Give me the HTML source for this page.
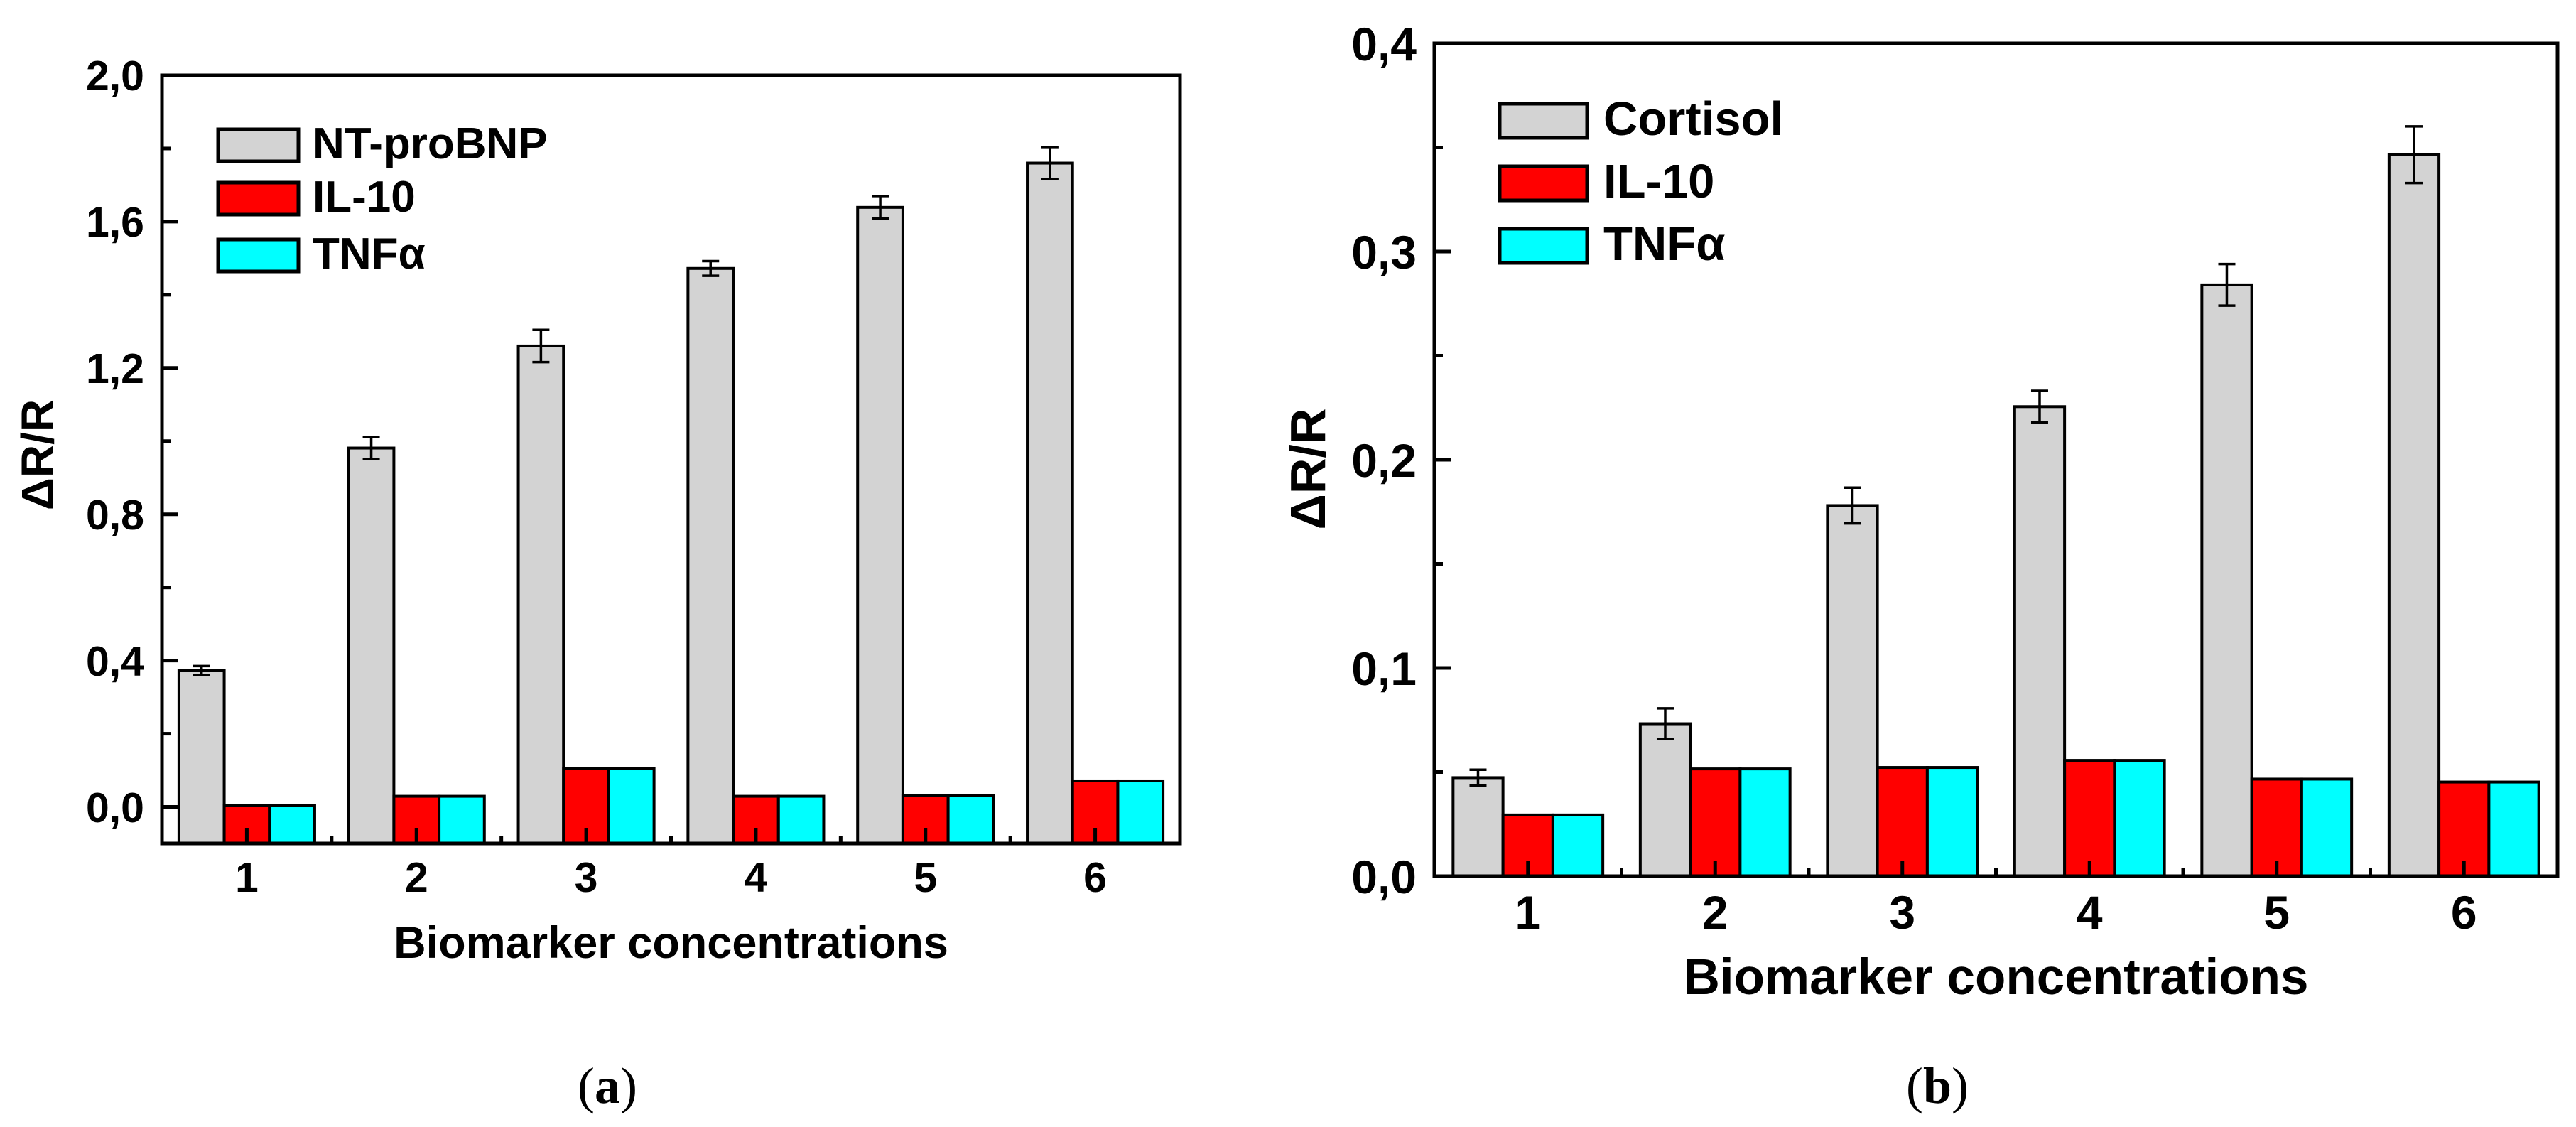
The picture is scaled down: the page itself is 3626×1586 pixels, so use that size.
<!DOCTYPE html>
<html>
<head>
<meta charset="utf-8">
<style>
  html, body { margin: 0; padding: 0; background: #fff; }
  svg { display: block; }
  text { font-family: "Liberation Sans", Arial, sans-serif; font-weight: bold; fill: #000; }
  .cap { font-family: "Liberation Serif", "Times New Roman", serif; font-weight: normal; }
</style>
</head>
<body>
<svg id="fig" width="3626" height="1586" viewBox="0 0 3626 1586" xmlns="http://www.w3.org/2000/svg">
  <g id="panelA"></g>
  <g id="panelB"></g>
  <text class="cap" x="855" y="1552" font-size="72" text-anchor="middle">(<tspan font-weight="bold">a</tspan>)</text>
  <text class="cap" x="2727" y="1552" font-size="72" text-anchor="middle">(<tspan font-weight="bold">b</tspan>)</text>
</svg>
<script>
// ---------- Panel A data ----------
const catsA = [1, 2, 3, 4, 5, 6];
const ntprobnpA = [0.373, 0.981, 1.26, 1.472, 1.639, 1.760];
const ntprobnpErrA = [0.012, 0.03, 0.044, 0.02, 0.031, 0.044];
const il10A = [0.004, 0.029, 0.104, 0.029, 0.031, 0.071];
const tnfA = [0.004, 0.029, 0.104, 0.029, 0.031, 0.071];
const yTicksA = [0.0, 0.4, 0.8, 1.2, 1.6, 2.0];
const yTickLabelsA = ["0,0", "0,4", "0,8", "1,2", "1,6", "2,0"];
const yMinorA = [0.2, 0.6, 1.0, 1.4, 1.8];
const legendA = ["NT-proBNP", "IL-10", "TNF\u03b1"];

// ---------- Panel B data ----------
const catsB = [1, 2, 3, 4, 5, 6];
const cortisolB = [0.0473, 0.0732, 0.178, 0.2255, 0.284, 0.3465];
const cortisolErrB = [0.0038, 0.0074, 0.0086, 0.0076, 0.010, 0.0136];
const il10B = [0.0294, 0.0515, 0.0522, 0.0556, 0.0466, 0.0452];
const tnfB = [0.0294, 0.0515, 0.0522, 0.0556, 0.0466, 0.0452];
const yTicksB = [0.0, 0.1, 0.2, 0.3, 0.4];
const yTickLabelsB = ["0,0", "0,1", "0,2", "0,3", "0,4"];
const yMinorB = [0.05, 0.15, 0.25, 0.35];
const legendB = ["Cortisol", "IL-10", "TNF\u03b1"];

const NS = "http://www.w3.org/2000/svg";
const COLORS = ["#d3d3d3", "#ff0000", "#00ffff"];

function mk(parent, tag, attrs) {
  const e = document.createElementNS(NS, tag);
  for (const k in attrs) e.setAttribute(k, attrs[k]);
  parent.appendChild(e);
  return e;
}

function drawPanel(g, cfg) {
  const L = cfg.left, R = cfg.right, T = cfg.top, B = cfg.bottom;
  const xs = v => L + (v - 0.5) / 6 * (R - L);
  const ys = v => B - (v - cfg.ymin) / (cfg.ymax - cfg.ymin) * (B - T);
  const sw = cfg.sw;

  // bars
  const series = [cfg.s0, cfg.s1, cfg.s2];
  const names = ["bar-" + cfg.key0, "bar-il10", "bar-tnfa"];
  const bw = 0.8 / 3;
  for (let s = 0; s < 3; s++) {
    for (let i = 0; i < cfg.cats.length; i++) {
      const x0 = xs(cfg.cats[i] - 0.4 + s * bw);
      const x1 = xs(cfg.cats[i] - 0.4 + (s + 1) * bw);
      const y0 = ys(series[s][i]);
      const yb = ys(Math.max(cfg.ymin, 0)) ;
      const base = cfg.ymin < 0 ? B : ys(0);
      const r = mk(g, "rect", {x: x0, y: y0, width: x1 - x0, height: base - y0,
        fill: COLORS[s], stroke: "#000", "stroke-width": sw});
      
      
    }
  }
  // error bars
  for (let i = 0; i < cfg.cats.length; i++) {
    const cx = xs(cfg.cats[i] - 0.4 + bw / 2);
    const yt = ys(cfg.s0[i] + cfg.err[i]);
    const yb = ys(cfg.s0[i] - cfg.err[i]);
    const eg = mk(g, "g", {stroke: "#000", "stroke-width": 3.5});
    
    
    mk(eg, "line", {x1: cx, x2: cx, y1: yt, y2: yb});
    mk(eg, "line", {x1: cx - 12, x2: cx + 12, y1: yt, y2: yt});
    mk(eg, "line", {x1: cx - 12, x2: cx + 12, y1: yb, y2: yb});
  }
  // frame
  const fr = mk(g, "rect", {x: L, y: T, width: R - L, height: B - T, fill: "none", stroke: "#000", "stroke-width": cfg.fw});
  
  

  // y ticks
  for (let i = 0; i < cfg.yTicks.length; i++) {
    const y = ys(cfg.yTicks[i]);
    const t = mk(g, "line", {x1: L, x2: L + 23, y1: y, y2: y, stroke: "#000", "stroke-width": cfg.fw});
    
    
    const lb = mk(g, "text", {x: L - 25, y: y + cfg.tfs * 0.36, "font-size": cfg.tfs, "text-anchor": "end"});
    lb.textContent = cfg.yLabels[i];
    
    
  }
  for (let i = 0; i < cfg.yMinor.length; i++) {
    const y = ys(cfg.yMinor[i]);
    const t = mk(g, "line", {x1: L, x2: L + 12, y1: y, y2: y, stroke: "#000", "stroke-width": cfg.fw});
    
    
  }
  // x ticks
  for (let i = 0; i < cfg.cats.length; i++) {
    const x = xs(cfg.cats[i]);
    const t = mk(g, "line", {x1: x, x2: x, y1: B, y2: B - 22, stroke: "#000", "stroke-width": cfg.fw});
    
    
    const lb = mk(g, "text", {x: x, y: cfg.xLabelBase, "font-size": cfg.tfs, "text-anchor": "middle"});
    lb.textContent = String(cfg.cats[i]);
    
    
  }
  for (let i = 0; i < cfg.cats.length - 1; i++) {
    const x = xs(cfg.cats[i] + 0.5);
    const t = mk(g, "line", {x1: x, x2: x, y1: B, y2: B - 11, stroke: "#000", "stroke-width": cfg.fw});
    
    
  }
  // axis titles
  const xt = mk(g, "text", {x: (L + R) / 2, y: cfg.xTitleBase, "font-size": cfg.titfs, "text-anchor": "middle"});
  xt.textContent = "Biomarker concentrations";
  
  
  const ytx = cfg.yTitleX, yty = cfg.yTitleY;
  const yt = mk(g, "text", {x: ytx, y: yty, "font-size": cfg.ytitfs, "text-anchor": "middle",
    transform: "rotate(-90 " + ytx + " " + yty + ")", "dominant-baseline": "central"});
  yt.textContent = "\u0394R/R";
  
  

  // legend
  for (let s = 0; s < 3; s++) {
    const lg = mk(g, "g", {});
    
    
    mk(lg, "rect", {x: cfg.lgX, y: cfg.lgY[s], width: cfg.lgW, height: cfg.lgH,
      fill: COLORS[s], stroke: "#000", "stroke-width": 5});
    const tx = mk(lg, "text", {x: cfg.lgTX, y: cfg.lgY[s] + cfg.lgH - 4, "font-size": cfg.lgfs});
    tx.textContent = cfg.legend[s];
  }
}

drawPanel(document.getElementById("panelA"), {
  left: 228, right: 1661, top: 106, bottom: 1187, ymin: -0.1, ymax: 2.0,
  cats: catsA, s0: ntprobnpA, err: ntprobnpErrA, s1: il10A, s2: tnfA, key0: "ntprobnp",
  yTicks: yTicksA, yLabels: yTickLabelsA, yMinor: yMinorA, legend: legendA,
  sw: 4, fw: 5, tfs: 59, titfs: 63, ytitfs: 64, xLabelBase: 1255, xTitleBase: 1348,
  yTitleX: 53, yTitleY: 640,
  lgX: 307, lgY: [182, 257, 337], lgW: 113, lgH: 45, lgTX: 440, lgfs: 62
});
drawPanel(document.getElementById("panelB"), {
  left: 2019, right: 3600, top: 61, bottom: 1233, ymin: 0, ymax: 0.4,
  cats: catsB, s0: cortisolB, err: cortisolErrB, s1: il10B, s2: tnfB, key0: "cortisol",
  yTicks: yTicksB, yLabels: yTickLabelsB, yMinor: yMinorB, legend: legendB,
  sw: 4, fw: 5, tfs: 66, titfs: 71, ytitfs: 70, xLabelBase: 1307, xTitleBase: 1399,
  yTitleX: 1841, yTitleY: 660,
  lgX: 2111, lgY: [146, 234, 322], lgW: 123, lgH: 48, lgTX: 2257, lgfs: 67
});
</script>
</body>
</html>
